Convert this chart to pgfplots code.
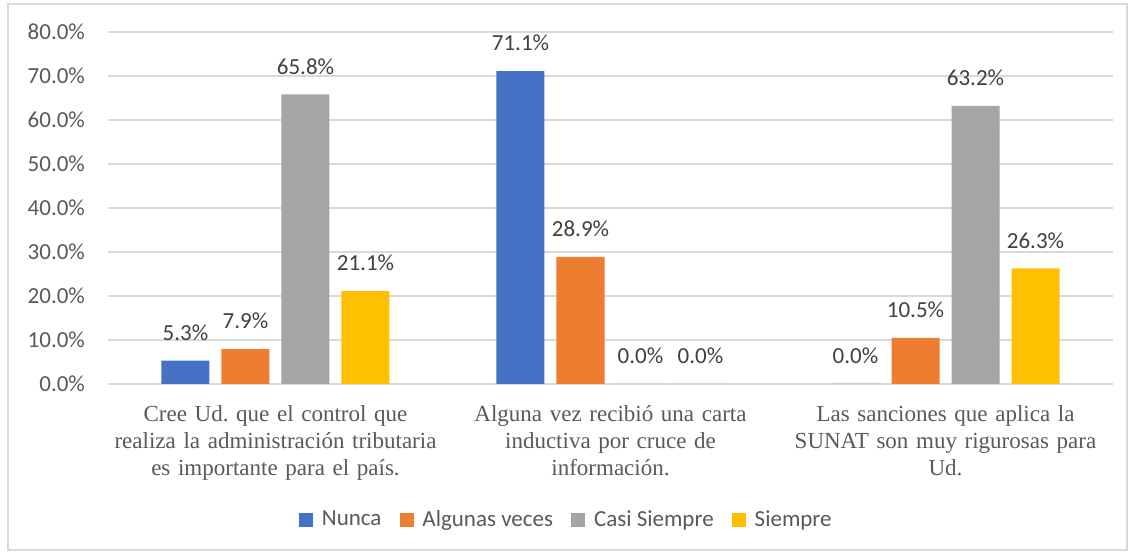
\documentclass[border=0pt]{standalone}
\usepackage{fontspec}
\setmainfont{Carlito}
\newfontfamily\catfont{Liberation Serif}
\usepackage{pgfplots}
\pgfplotsset{compat=1.18}
\definecolor{cBlue}{HTML}{4472C4}
\definecolor{cOrange}{HTML}{ED7D31}
\definecolor{cGray}{HTML}{A5A5A5}
\definecolor{cYellow}{HTML}{FFC000}
\definecolor{txt}{HTML}{595959}
\definecolor{lbl}{HTML}{404040}
\definecolor{gridc}{HTML}{D9D9D9}
\frenchspacing
\begin{document}
\begin{tikzpicture}
\useasboundingbox (-54pt,-85.5pt) rectangle (513.5pt,192pt);
\draw[gridc, line width=0.7pt] (-50pt,-83pt) rectangle (509.5pt,190pt);
\begin{axis}[
    scale only axis,
    width=502.5pt, height=176pt,
    clip=false,
    ybar=6pt, bar width=24pt,
    ymin=0, ymax=80,
    ytick={0,10,...,80},
    xmin=-0.5, xmax=2.5,
    xtick=data,
    xticklabels={
      {Cree Ud. que el control que\\realiza la administración tributaria\\es importante para el país.},
      {Alguna vez recibió una carta\\inductiva por cruce de\\información.},
      {Las sanciones que aplica la\\SUNAT son muy rigurosas para\\Ud.}},
    xticklabel style={font=\catfont\fontsize{11.5}{13.5}\selectfont, text=txt, align=center, text width=165pt, anchor=north, yshift=-7pt},
    /pgf/number format/assume math mode=true,
    yticklabel={\pgfmathprintnumber[fixed,fixed zerofill,precision=1]{\tick}\%},
    yticklabel style={font=\fontsize{11.5}{13}\selectfont, text=txt, xshift=-8pt},
    major tick length=0pt,
    axis lines*=left,
    y axis line style={draw=none},
    x axis line style={draw=gridc, line width=1pt},
    ymajorgrids,
    grid style={gridc, line width=0.75pt},
    nodes near coords={\pgfmathprintnumber[fixed,fixed zerofill,precision=1]{\pgfplotspointmeta}\%},
    every node near coord/.append style={font=\fontsize{11.5}{13}\selectfont, text=lbl, anchor=south, yshift=6.5pt},
    legend columns=-1,
    legend style={at={(0.457,-0.386)}, anchor=center, draw=none, fill=none,
      font=\fontsize{11.5}{13}\selectfont, text=txt,
      /tikz/every even column/.append style={column sep=7pt}},
    legend image code/.code={\fill[#1] (0pt,-3.5pt) rectangle (7pt,3.5pt); \path (9.5pt,0pt);},
]
\addplot[fill=cBlue, draw=none] coordinates {(0,5.3) (1,71.1) (2,0.0)};
\addplot[fill=cOrange, draw=none] coordinates {(0,7.9) (1,28.9) (2,10.5)};
\addplot[fill=cGray, draw=none] coordinates {(0,65.8) (1,0.0) (2,63.2)};
\addplot[fill=cYellow, draw=none] coordinates {(0,21.1) (1,0.0) (2,26.3)};
\legend{Nunca, Algunas veces, Casi Siempre, Siempre}
\end{axis}
\end{tikzpicture}
\end{document}
